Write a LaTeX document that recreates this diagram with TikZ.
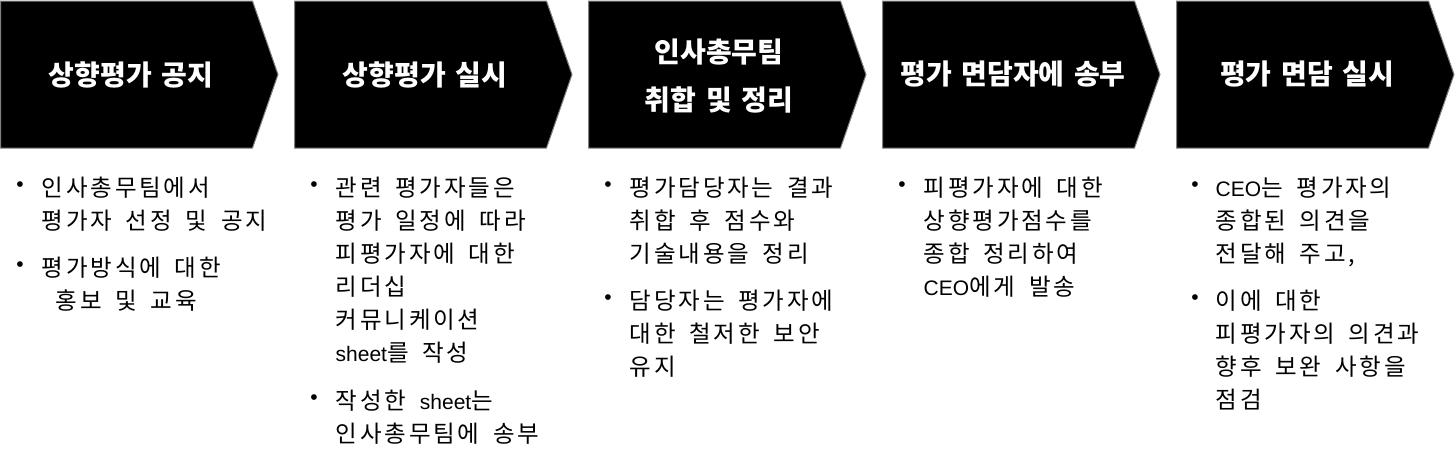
\documentclass[tikz,border=0pt]{standalone}
\usepackage{fontspec}
\setmainfont{Noto Sans CJK KR}[WordSpace=1.7,LetterSpace=12]
\newfontfamily\headfont{Noto Sans CJK KR}[WordSpace=1.5]
\newfontfamily\latfont{Liberation Sans}
\newcommand\entxt[1]{{\latfont\fontsize{21}{33}\selectfont #1}}
\begin{document}
\begin{tikzpicture}[x=1pt,y=-1pt,
  stepbox/.style={fill=black,draw=gray,line width=1pt},
  steptext/.style={text=white,align=center,inner sep=0pt,font=\headfont\bfseries\fontsize{28}{48}\selectfont},
  dot/.style={inner sep=0pt,font=\latfont\fontsize{21}{21}\selectfont},
  item/.style={anchor=base west,inner sep=0pt,align=left,font=\fontsize{23.5}{33}\selectfont}]
\useasboundingbox (0,0) rectangle (1455,463);
% steps
\draw[stepbox] (0.5,1) -- (252.5,1) -- (278,74.5) -- (252.5,148) -- (0.5,148) -- cycle;
\draw[stepbox] (294.5,1) -- (546.5,1) -- (572,74.5) -- (546.5,148) -- (294.5,148) -- cycle;
\draw[stepbox] (588.5,1) -- (840.5,1) -- (866,74.5) -- (840.5,148) -- (588.5,148) -- cycle;
\draw[stepbox] (882.5,1) -- (1134.5,1) -- (1160,74.5) -- (1134.5,148) -- (882.5,148) -- cycle;
\draw[stepbox] (1176.5,1) -- (1428.5,1) -- (1454,74.5) -- (1428.5,148) -- (1176.5,148) -- cycle;
\node[steptext] (s1) at (131,74.5) {상향평가 공지};
\node[steptext] (s2) at (425,74.5) {상향평가 실시};
\node[steptext] (s3) at (719,76) {인사총무팀\\취합 및 정리};
\node[steptext] (s4) at (1013,74.5) {평가 면담자에 송부};
\node[steptext] (s5) at (1307,74.5) {평가 면담 실시};
% column 1 (anchored on the last line)
\node[dot] (b1a) at (20,187) {\textbullet};
\node[item] (t1a) at (41.5,229) {인사총무팀에서\\평가자 선정 및 공지};
\node[dot] (b1b) at (20,267) {\textbullet};
\node[item] (t1b) at (41.5,309) {평가방식에 대한\\\hspace*{14pt}홍보 및 교육};
% column 2
\node[dot] (b2a) at (314,187) {\textbullet};
\node[item] (t2a) at (335.5,361) {관련 평가자들은\\평가 일정에 따라\\피평가자에 대한\\리더십\\커뮤니케이션\\\entxt{sheet}를 작성};
\node[dot] (b2b) at (314,400) {\textbullet};
\node[item] (t2b) at (335.5,442) {작성한 \entxt{sheet}는\\인사총무팀에 송부};
% column 3
\node[dot] (b3a) at (608,187) {\textbullet};
\node[item] (t3a) at (629.5,262) {평가담당자는 결과\\취합 후 점수와\\기술내용을 정리};
\node[dot] (b3b) at (608,300) {\textbullet};
\node[item] (t3b) at (629.5,375) {담당자는 평가자에\\대한 철저한 보안\\유지};
% column 4
\node[dot] (b4a) at (902,187) {\textbullet};
\node[item] (t4a) at (923.5,295) {피평가자에 대한\\상향평가점수를\\종합 정리하여\\\entxt{CEO}에게 발송};
% column 5
\node[dot] (b5a) at (1195,187) {\textbullet};
\node[item] (t5a) at (1215.5,262) {\entxt{CEO}는 평가자의\\종합된 의견을\\전달해 주고,};
\node[dot] (b5b) at (1195,300) {\textbullet};
\node[item] (t5b) at (1215.5,408) {이에 대한\\피평가자의 의견과\\향후 보완 사항을\\점검};
\end{tikzpicture}
\end{document}
